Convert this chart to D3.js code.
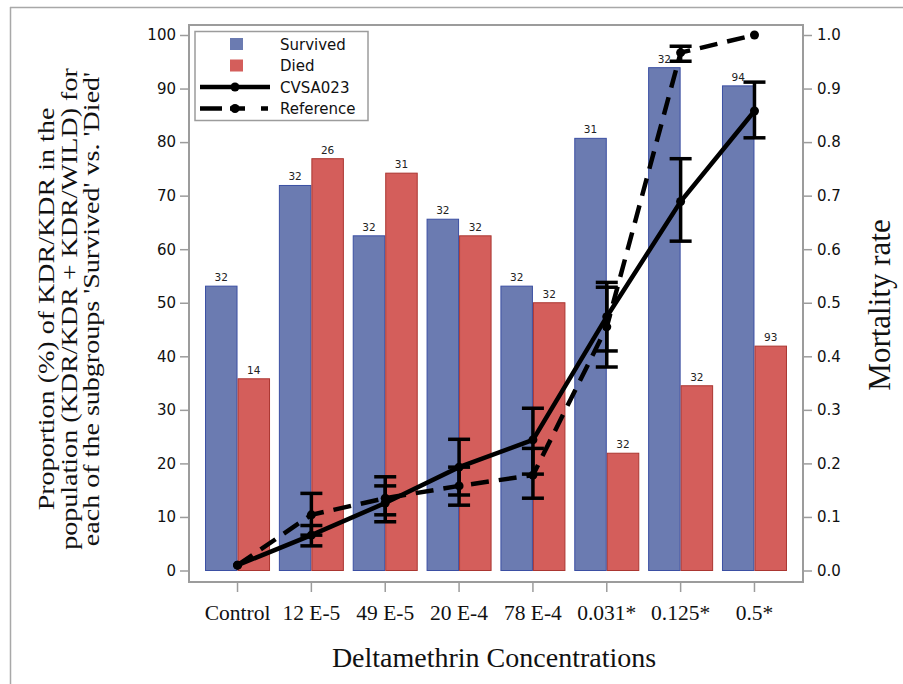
<!DOCTYPE html>
<html><head><meta charset="utf-8">
<script src="https://cdn.jsdelivr.net/npm/d3@7"></script>
<style>body{margin:0;background:#fff}svg{display:block}</style>
</head><body>
<script>
const categories = ["Control","12 E-5","49 E-5","20 E-4","78 E-4","0.031*","0.125*","0.5*"];
const survived = [53.1, 71.9, 62.5, 65.6, 53.1, 80.7, 93.9, 90.5];
const died = [35.8, 76.9, 74.2, 62.5, 50.0, 21.9, 34.5, 41.9];
const survivedN = [32, 32, 32, 32, 32, 31, 32, 94];
const diedN = [14, 26, 31, 32, 32, 32, 32, 93];
const cvsa = [0.01, 0.066, 0.126, 0.193, 0.244, 0.474, 0.689, 0.858];
const cvsaLow = [null, 0.046, 0.091, 0.141, 0.18, 0.41, 0.615, 0.808];
const cvsaHigh = [null, 0.084, 0.158, 0.245, 0.303, 0.538, 0.769, 0.912];
const reference = [0.01, 0.104, 0.135, 0.158, 0.178, 0.455, 0.967, 1.0];
const refLow = [null, 0.066, 0.104, 0.122, 0.135, 0.38, 0.951, null];
const refHigh = [null, 0.144, 0.175, 0.193, 0.228, 0.529, 0.979, null];
const leftTicks = [0,10,20,30,40,50,60,70,80,90,100];
const rightTicks = [0,0.1,0.2,0.3,0.4,0.5,0.6,0.7,0.8,0.9,1.0];

const W = 903, H = 684;
const svg = d3.select("body").append("svg").attr("width", W).attr("height", H);
const frame = {x0:189, x1:803, y0:25, y1:582};
const blueFill = "#6b7bb1", blueStroke = "#3b4fa3";
const redFill = "#d45e5b", redStroke = "#ab3631";
const gray = "#9c9c9c";

// outer border
svg.append("line").attr("x1",10).attr("x2",W).attr("y1",7.5).attr("y2",7.5).attr("stroke","#a8a8a8").attr("stroke-width",1.5);
svg.append("line").attr("x1",10.5).attr("x2",10.5).attr("y1",7).attr("y2",H).attr("stroke","#a8a8a8").attr("stroke-width",1.5);

const x = d3.scaleBand().domain(categories).range([200.6, 791.4]).padding(0);
const cx = c => x(c) + x.bandwidth()/2;
const xs = d3.scaleBand().domain(["Survived","Died"]).range([-32.5, 32.5]);
const y = d3.scaleLinear().domain([0,100]).range([570.5, 35]);
const y2 = d3.scaleLinear().domain([0,1]).range([570.5, 35]);

// bars
const barData = [];
categories.forEach((c,i)=>{
  barData.push({c, s:"Survived", v:survived[i], n:survivedN[i]});
  barData.push({c, s:"Died", v:died[i], n:diedN[i]});
});
svg.append("g").selectAll("rect").data(barData).join("rect")
  .attr("x", d=>cx(d.c)+xs(d.s)+0.5)
  .attr("width", xs.bandwidth()-1)
  .attr("y", d=>y(d.v))
  .attr("height", d=>y(0)-y(d.v))
  .attr("fill", d=>d.s==="Survived"?blueFill:redFill)
  .attr("stroke", d=>d.s==="Survived"?blueStroke:redStroke)
  .attr("stroke-width",1);
svg.append("g").selectAll("text").data(barData).join("text")
  .attr("x", d=>cx(d.c)+xs(d.s)+xs.bandwidth()/2)
  .attr("y", d=>y(d.v)-5)
  .attr("text-anchor","middle")
  .attr("font-family","DejaVu Sans").attr("font-size",10.5).attr("fill","#222")
  .text(d=>d.n);

// frame
svg.append("rect").attr("x",frame.x0).attr("y",frame.y0)
  .attr("width",frame.x1-frame.x0).attr("height",frame.y1-frame.y0)
  .attr("fill","none").attr("stroke",gray).attr("stroke-width",2);

// left axis
const gl = svg.append("g").attr("transform",`translate(${frame.x0},0)`)
  .call(d3.axisLeft(y).tickValues(leftTicks).tickSize(9).tickPadding(4).tickFormat(d3.format("d")));
gl.select(".domain").remove();
gl.selectAll("line").attr("stroke",gray).attr("stroke-width",1.5);
gl.selectAll("text").attr("font-family","DejaVu Sans").attr("font-size",15).attr("fill","#111");

// right axis
const gr = svg.append("g").attr("transform",`translate(${frame.x1},0)`)
  .call(d3.axisRight(y2).tickValues(rightTicks).tickSize(9).tickPadding(5).tickFormat(d3.format(".1f")));
gr.select(".domain").remove();
gr.selectAll("line").attr("stroke",gray).attr("stroke-width",1.5);
gr.selectAll("text").attr("font-family","DejaVu Sans").attr("font-size",15).attr("fill","#111");

// bottom axis
const gb = svg.append("g").attr("transform",`translate(0,${frame.y1})`);
gb.selectAll("line").data(categories).join("line")
  .attr("x1",cx).attr("x2",cx).attr("y1",0).attr("y2",10).attr("stroke",gray).attr("stroke-width",1.5);
gb.selectAll("text").data(categories).join("text")
  .attr("x",cx).attr("y",38).attr("text-anchor","middle")
  .attr("font-family","Liberation Serif").attr("font-size",21.5).attr("fill","#111")
  .text(d=>d);

// axis titles
svg.append("text").attr("x",(frame.x0+frame.x1)/2 - 2).attr("y",667).attr("text-anchor","middle")
  .attr("font-family","Liberation Serif").attr("font-size",28).attr("fill","#111")
  .text("Deltamethrin Concentrations");
const ylines = ["Proportion (%) of KDR/KDR in the","population (KDR/KDR + KDR/WILD) for","each of the subgroups 'Survived' vs. 'Died'"];
svg.append("g").selectAll("text").data(ylines).join("text")
  .attr("transform",(d,i)=>`translate(${54+i*22.5},309) rotate(-90) scale(1.22,1)`)
  .attr("text-anchor","middle")
  .attr("font-family","Liberation Serif").attr("font-size",23).attr("fill","#111")
  .text(d=>d);
svg.append("text").attr("transform","translate(890,305) rotate(-90)").attr("text-anchor","middle")
  .attr("font-family","Liberation Serif").attr("font-size",31).attr("fill","#111")
  .text("Mortality rate");

// lines
const line = d3.line().x((d,i)=>cx(categories[i])).y(d=>y2(d));
svg.append("path").datum(cvsa).attr("d",line).attr("fill","none").attr("stroke","#000").attr("stroke-width",4.5);
svg.append("path").datum(reference).attr("d",line).attr("fill","none").attr("stroke","#000").attr("stroke-width",4.5).attr("stroke-dasharray","18,10");

// error bars
function errBars(lo, hi){
  const g = svg.append("g");
  categories.forEach((c,i)=>{
    if(lo[i]==null) return;
    const X = cx(c);
    g.append("line").attr("x1",X).attr("x2",X).attr("y1",y2(lo[i])).attr("y2",y2(hi[i])).attr("stroke","#000").attr("stroke-width",3.5);
    [lo[i],hi[i]].forEach(v=>{
      g.append("line").attr("x1",X-11).attr("x2",X+11).attr("y1",y2(v)).attr("y2",y2(v)).attr("stroke","#000").attr("stroke-width",3.5);
    });
  });
}
errBars(cvsaLow, cvsaHigh);
errBars(refLow, refHigh);

// markers
[cvsa, reference].forEach(arr=>{
  svg.append("g").selectAll("circle").data(arr).join("circle")
    .attr("cx",(d,i)=>cx(categories[i])).attr("cy",d=>y2(d)).attr("r",4.5).attr("fill","#000");
});

// legend
const lg = svg.append("g");
lg.append("rect").attr("x",195).attr("y",31.5).attr("width",173).attr("height",89)
  .attr("fill","#fff").attr("stroke",gray).attr("stroke-width",1.5);
const legItems = [
  {label:"Survived", type:"box", fill:blueFill},
  {label:"Died", type:"box", fill:redFill},
  {label:"CVSA023", type:"line", dash:null},
  {label:"Reference", type:"line", dash:"22,8,15,16,7,30"}
];
legItems.forEach((d,i)=>{
  const yy = 44 + i*21.5;
  if(d.type==="box"){
    lg.append("rect").attr("x",230).attr("y",yy-6).attr("width",13).attr("height",12).attr("fill",d.fill);
  } else {
    const l = lg.append("line").attr("x1",200).attr("x2",270).attr("y1",yy).attr("y2",yy).attr("stroke","#000").attr("stroke-width",4.5);
    if(d.dash) l.attr("stroke-dasharray",d.dash);
    lg.append("circle").attr("cx",235).attr("cy",yy).attr("r",4.5).attr("fill","#000");
  }
  lg.append("text").attr("x",280).attr("y",yy+5.5).attr("font-family","DejaVu Sans").attr("font-size",15).attr("fill","#111").text(d.label);
});
</script>
</body></html>
